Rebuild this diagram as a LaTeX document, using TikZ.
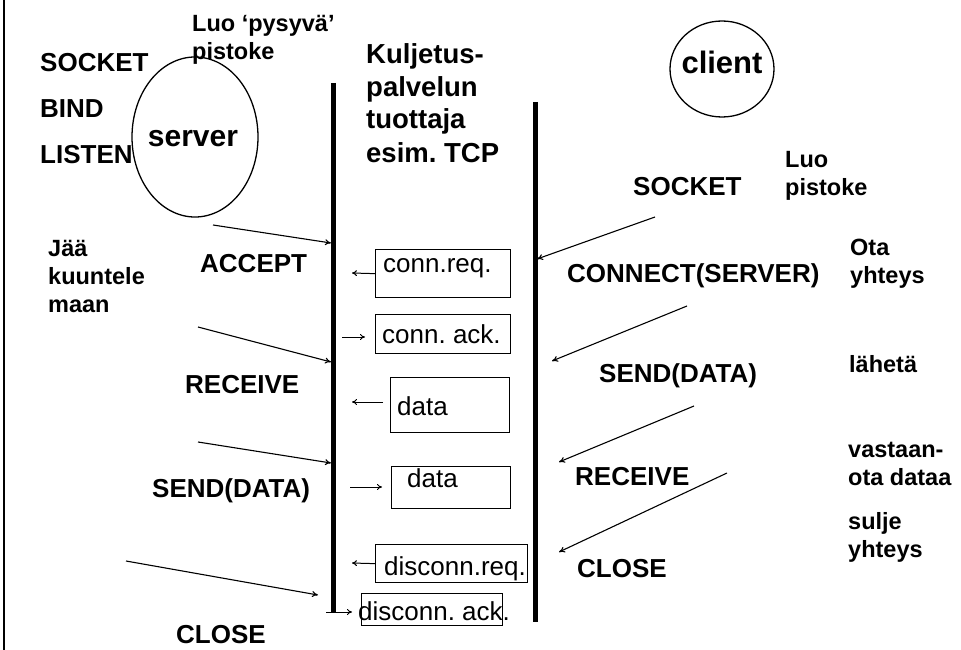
\documentclass[tikz,border=0pt]{standalone}
\usepackage{fontspec}
\setmainfont{Liberation Sans}
\frenchspacing
\usetikzlibrary{arrows.meta,shapes.geometric}
\begin{document}
\begin{tikzpicture}[x=1pt, y=-1pt,
    big/.style={anchor=base west, inner sep=0pt, font=\fontsize{26}{30}\selectfont\bfseries},
    small/.style={anchor=base west, inner sep=0pt, align=left, font=\fontsize{23.5}{28}\selectfont\bfseries},
    role/.style={ellipse, draw, line width=1.3pt, inner sep=0pt},
    msgbox/.style={draw, line width=1.3pt, anchor=north west, inner sep=0pt},
    boxtext/.style={anchor=base west, inner sep=0pt, font=\fontsize{26}{30}\selectfont},
    lifeline/.style={line width=5pt},
    call/.style={-{To[length=6pt,width=6pt]}, line width=1.1pt},
    >={To[length=5pt,width=6pt]}]
    \useasboundingbox (0,0) rectangle (961,650);
    \draw[line width=2pt] (4,0) -- (4,650);
    % server side (multi-line texts sit on their last line)
    \node[role, minimum width=126pt, minimum height=160pt] (server) at (195,137) {};
    \node[font=\fontsize{30}{34}\selectfont\bfseries] (servertxt) at (193,139) {server};
    \node[big] (ssocket) at (40,72)  {SOCKET};
    \node[big] (sbind)   at (40,118) {BIND};
    \node[big] (slisten) at (40,164) {LISTEN};
    \node[small] (sluo)  at (192,60) {Luo ‘pysyvä’\\pistoke};
    \node[small] (sjaa)  at (48,312) {Jää\\kuuntele\\maan};
    \node[big] (saccept) at (200,272) {ACCEPT};
    \node[big] (srecv)   at (185,393) {RECEIVE};
    \node[big] (ssend)   at (152,497) {SEND(DATA)};
    \node[big] (sclose)  at (176,643) {CLOSE};
    % transport provider
    \node[anchor=base west, inner sep=0pt, align=left, font=\fontsize{27.5}{33}\selectfont\bfseries]
        (tcp) at (366,162) {Kuljetus-\\palvelun\\tuottaja\\esim. TCP};
    % client side
    \node[role, minimum width=104pt, minimum height=96pt] (client) at (722,69) {};
    \node[font=\fontsize{31}{34}\selectfont\bfseries] (clienttxt) at (722,62) {client};
    \node[big] (csocket) at (633,195) {SOCKET};
    \node[small] (cluo)  at (785,195) {Luo\\pistoke};
    \node[big] (cconn)   at (567,282) {CONNECT(SERVER)};
    \node[small] (cota)  at (850,283) {Ota\\yhteys};
    \node[big] (csend)   at (599,382) {SEND(DATA)};
    \node[small] (claheta) at (849,372) {lähetä};
    \node[big] (crecv)   at (575,485) {RECEIVE};
    \node[small] (cvast) at (848,485) {vastaan-\\ota dataa};
    \node[small] (csulje) at (848,557) {sulje\\yhteys};
    \node[big] (cclose)  at (577,577) {CLOSE};
    % lifelines
    \coordinate (stop) at (333,83);
    \coordinate (sbot) at (333,613);
    \coordinate (ctop) at (535,102);
    \coordinate (cbot) at (535,622);
    \draw[lifeline] (stop) -- (sbot);
    \draw[lifeline] (ctop) -- (cbot);
    % messages
    \node[msgbox, minimum width=135pt, minimum height=48pt] (req) at (375,249) {};
    \node[boxtext] (reqtxt) at (383,272) {conn.req.};
    \node[msgbox, minimum width=135pt, minimum height=39pt] (ack) at (375,314) {};
    \node[boxtext] (acktxt) at (382,343) {conn. ack.};
    \node[msgbox, minimum width=119pt, minimum height=55pt] (data1) at (390,377) {};
    \node[boxtext] (data1txt) at (397,415) {data};
    \node[msgbox, minimum width=119pt, minimum height=42pt] (data2) at (391,466) {};
    \node[boxtext] (data2txt) at (407,487) {data};
    \node[msgbox, minimum width=152pt, minimum height=38pt] (dreq) at (375,544) {};
    \node[boxtext] (dreqtxt) at (384,575) {disconn.req.};
    \node[msgbox, minimum width=141pt, minimum height=32pt] (dack) at (361,593) {};
    \node[boxtext] (dacktxt) at (358,620) {disconn. ack.};
    \coordinate (reqend) at (352,273);
    \coordinate (ackbeg) at (342,337);
    \coordinate (ackend) at (365,337);
    \coordinate (d1beg) at (383,402);
    \coordinate (d1end) at (352,402);
    \coordinate (d2beg) at (350,487);
    \coordinate (d2end) at (382,487);
    \coordinate (dreqend) at (352,563);
    \coordinate (dackbeg) at (326,612);
    \coordinate (dackend) at (352,612);
    \draw[->, line width=1pt] (req.west) -- (reqend);
    \draw[->, line width=1pt] (ackbeg) -- (ackend);
    \draw[->, line width=1pt] (d1beg) -- (d1end);
    \draw[->, line width=1pt] (d2beg) -- (d2end);
    \draw[->, line width=1pt] (dreq.west) -- (dreqend);
    \draw[->, line width=1pt] (dackbeg) -- (dackend);
    % calls into the provider
    \coordinate (sa) at (213,225); \coordinate (sae) at (331,243);
    \coordinate (sb) at (198,327); \coordinate (sbe) at (331,362);
    \coordinate (sc) at (198,442); \coordinate (sce) at (331,463);
    \coordinate (sd) at (126,561); \coordinate (sde) at (318,595);
    \coordinate (ca) at (655,217); \coordinate (cae) at (537,259);
    \coordinate (cb) at (687,306); \coordinate (cbe) at (552,361);
    \coordinate (cc) at (694,406); \coordinate (cce) at (559,462);
    \coordinate (cd) at (727,473); \coordinate (cde) at (559,552);
    \draw[call] (sa) -- (sae);
    \draw[call] (sb) -- (sbe);
    \draw[call] (sc) -- (sce);
    \draw[call] (sd) -- (sde);
    \draw[call] (ca) -- (cae);
    \draw[call] (cb) -- (cbe);
    \draw[call] (cc) -- (cce);
    \draw[call] (cd) -- (cde);
\end{tikzpicture}
\end{document}
